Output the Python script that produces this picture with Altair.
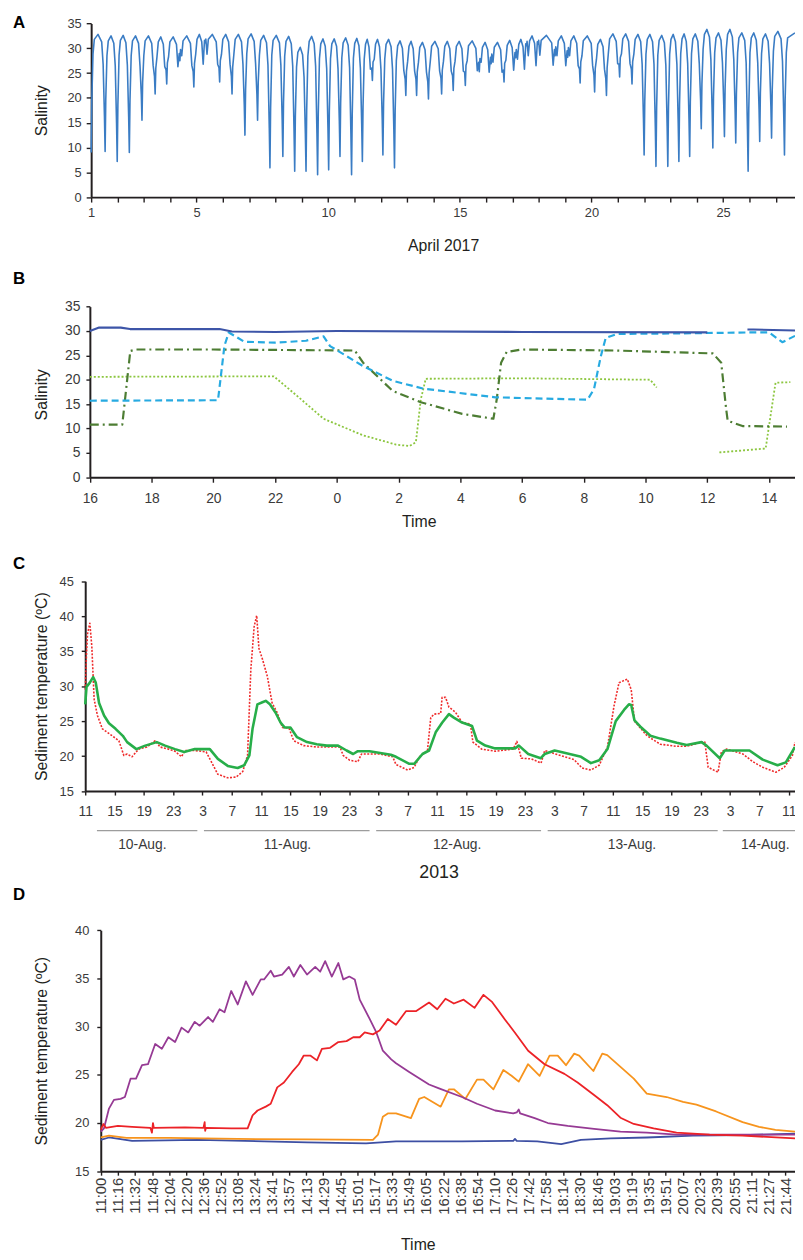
import json
import altair as alt
import pandas as pd

# ---------------- Panel A : salinity, April 2017 ----------------
A_DAY_START = 1.0
A_DAY_END = 27.73
A_START = 9.0
A_DIP_DAY = [1.53, 1.99, 2.45, 2.93, 3.43, 3.87, 4.37, 4.90, 5.33, 5.88,
             6.35, 6.84, 7.32, 7.79, 8.28, 8.73, 9.16, 9.60, 10.02, 10.45,
             10.89, 11.30, 11.68, 12.08, 12.52, 12.95, 13.36, 13.81, 14.31, 14.75,
             15.21, 15.74, 16.19, 16.68, 17.12, 17.53, 17.97, 18.62, 19.10, 19.57,
             20.12, 20.57, 21.07, 21.54, 22.00, 22.45, 22.90, 23.32, 23.73, 24.17,
             24.61, 25.05, 25.48, 25.95, 26.39, 26.84, 27.33]
A_DIP_MIN = [9.2, 7.2, 9.0, 15.5, 20.8, 22.8, 27.5, 22.2, 31.1, 23.2,
             20.8, 12.5, 15.5, 5.9, 8.2, 5.2, 5.2, 4.5, 5.5, 8.2,
             4.5, 7.2, 23.5, 8.5, 5.9, 20.5, 20.5, 19.8, 20.8, 21.5,
             22.5, 25.3, 26.9, 23.2, 28.1, 30.5, 30.8, 28.5, 28.2, 23.0,
             21.2, 20.5, 24.2, 22.8, 8.5, 6.2, 6.2, 7.2, 8.2, 13.8,
             9.9, 12.2, 10.9, 5.2, 11.2, 11.9, 8.5]
A_TOP = [32.8, 32.5, 32.6, 32.5, 32.5, 32.3, 32.3, 32.5, 32.8, 32.8,
         32.8, 32.8, 32.9, 32.6, 32.6, 32.4, 30.2, 32.4, 31.9, 31.9,
         32.1, 32.0, 31.8, 31.8, 31.8, 31.5, 31.4, 31.2, 31.4, 31.4,
         31.4, 31.5, 31.2, 31.2, 31.6, 31.8, 32.5, 32.6, 32.5, 32.5,
         32.5, 31.8, 32.9, 32.9, 32.8, 32.8, 32.6, 32.8, 32.9, 32.9,
         33.8, 33.1, 33.8, 33.1, 33.1, 32.9, 33.4, 33.1]
A_TICKS = list(range(1, 28))
A_LABELED = [1, 5, 10, 15, 20, 25]
A_YTICKS = [0, 5, 10, 15, 20, 25, 30, 35]

# ---------------- Panel B : salinity vs time ----------------
B_BLUE = [(1, 16, 30.0), (1, 16.3, 30.7), (1, 17.0, 30.7), (1, 17.3, 30.4), (1, 20.2, 30.4),
          (1, 20.6, 29.9), (1, 22.0, 29.8), (1, 24.0, 30.0), (1, 30.0, 29.8), (1, 36.0, 29.7),
          (2, 37.3, 30.3), (2, 37.5, 30.3), (2, 38.84, 30.1)]
B_CYAN = [(1, 16, 15.7), (1, 20.15, 15.8), (1, 20.36, 27.0), (1, 20.5, 29.7), (1, 21.0, 27.8),
          (1, 22.0, 27.6), (1, 23.0, 28.0), (1, 23.57, 28.9), (1, 23.78, 26.9), (1, 24.85, 22.8),
          (1, 25.81, 19.8), (1, 26.78, 18.2), (1, 29.13, 16.4), (1, 32.12, 15.9), (1, 32.33, 18.1),
          (1, 32.55, 24.8), (1, 32.71, 28.6), (1, 33.08, 29.4), (1, 35.0, 29.5), (1, 37.36, 29.7),
          (1, 38.0, 29.7), (1, 38.43, 27.7), (1, 38.84, 29.0)]
B_DKGREEN = [(1, 16, 10.8), (1, 17.05, 10.8), (1, 17.31, 25.9), (1, 17.5, 26.2), (1, 20.0, 26.2),
             (1, 24.58, 26.0), (1, 24.85, 23.5), (1, 25.81, 17.7), (1, 26.72, 15.4), (1, 28.06, 13.0),
             (1, 29.07, 12.0), (1, 29.18, 16.0), (1, 29.32, 23.5), (1, 29.5, 25.7), (1, 29.98, 26.2),
             (1, 33.0, 26.0), (1, 36.18, 25.4), (1, 36.45, 23.5), (1, 36.61, 14.0), (1, 36.66, 11.6),
             (1, 37.14, 10.5), (1, 38.58, 10.4)]
B_LTGREEN = [(1, 16, 20.6), (1, 21.96, 20.7), (1, 22.71, 16.7), (1, 23.57, 12.0), (1, 24.85, 8.6),
             (1, 25.92, 6.7), (1, 26.35, 6.4), (1, 26.56, 7.2), (1, 26.72, 16.0), (1, 26.88, 20.2),
             (1, 30.0, 20.3), (1, 34.15, 20.0), (1, 34.36, 18.4),
             (2, 36.39, 5.1), (2, 37.89, 5.9), (2, 38.0, 10.6), (2, 38.21, 19.4), (2, 38.69, 19.5)]
B_XTICKS = list(range(16, 39, 2))
B_YTICKS = [0, 5, 10, 15, 20, 25, 30, 35]

# ---------------- Panel C : sediment temperature, Aug 2013 ----------------
C_GREEN = [(0, 27.4), (0.18, 29.9), (0.63, 30.5), (1.08, 31.3), (1.44, 30.5), (1.89, 27.6),
           (2.57, 25.8), (3.24, 24.7), (4.14, 23.9), (5.13, 22.9), (5.72, 22.0), (6.98, 21.0),
           (8.19, 21.5), (9.77, 22.0), (10.9, 21.5), (12.25, 21.0), (13.5, 20.6), (14.95, 21.0),
           (17.0, 21.0), (18.1, 19.6), (19.45, 18.6), (20.8, 18.3), (21.7, 18.7), (22.4, 20.1),
           (22.83, 23.9), (23.5, 27.4), (24.18, 27.7), (24.63, 27.9), (25.2, 27.4), (25.98, 26.2),
           (26.65, 24.8), (27.2, 24.1), (28.0, 24.1), (28.9, 22.7), (30.26, 22.0), (31.6, 21.7),
           (32.96, 21.5), (34.5, 21.5), (35.66, 20.8), (36.56, 20.3), (37.2, 20.7), (38.8, 20.7),
           (41.7, 20.2), (42.41, 19.9), (44.22, 18.9), (44.9, 18.9), (46.02, 20.3), (46.92, 20.8),
           (47.82, 23.4), (48.72, 24.8), (49.63, 26.0), (50.3, 25.5), (51.43, 24.8), (52.78, 24.3),
           (53.46, 22.2), (54.59, 21.5), (55.94, 21.1), (58.64, 21.1), (59.18, 21.5), (60.45, 20.3),
           (62.16, 19.7), (62.7, 20.3), (64.05, 20.8), (64.95, 20.6), (67.66, 19.9), (69.0, 19.0),
           (70.14, 19.4), (71.26, 21.0), (72.39, 25.0), (73.52, 26.6), (74.19, 27.4), (74.5, 27.3),
           (74.95, 25.1), (75.76, 24.2), (77.12, 22.9), (78.47, 22.5), (80.72, 21.9), (82.07, 21.6),
           (84.1, 22.0), (84.78, 21.5), (86.58, 19.7), (87.26, 20.8), (88.38, 20.8), (90.64, 20.8),
           (92.44, 19.5), (94.47, 18.7), (95.6, 19.1), (96.85, 21.3)]
C_RED = [(0, 29.5), (0.18, 34.7), (0.32, 37.5), (0.63, 39.0), (0.9, 35.7), (1.22, 28.1),
         (1.67, 25.8), (2.34, 23.9), (3.69, 22.9), (4.59, 22.2), (5.27, 20.1), (5.72, 20.3),
         (6.39, 19.9), (7.29, 21.0), (8.42, 21.3), (9.55, 22.2), (10.22, 21.3), (11.35, 21.0),
         (12.25, 20.7), (13.15, 19.9), (13.6, 20.8), (14.95, 20.8), (16.5, 20.6), (17.2, 19.2),
         (18.1, 17.4), (19.45, 16.9), (20.58, 17.0), (21.5, 17.8), (22.15, 20.1), (22.6, 32.4),
         (23.05, 38.5), (23.4, 40.1), (23.7, 35.4), (24.2, 33.8), (24.85, 31.4), (25.5, 27.6),
         (26.2, 26.2), (26.9, 24.1), (27.8, 24.0), (28.45, 22.2), (29.8, 21.5), (31.6, 21.3),
         (33.4, 21.3), (34.76, 21.3), (35.2, 20.1), (36.1, 19.4), (37.2, 19.2), (37.7, 20.3),
         (40.2, 20.3), (41.96, 19.9), (42.4, 18.8), (44.0, 18.0), (44.9, 18.4), (45.6, 19.9),
         (46.7, 20.8), (47.15, 25.5), (47.6, 26.0), (48.5, 26.1), (48.7, 28.4), (49.17, 28.4),
         (49.63, 27.0), (50.5, 26.3), (51.43, 24.8), (52.56, 24.6), (52.9, 22.0), (54.1, 21.0),
         (55.94, 20.7), (58.4, 21.0), (58.9, 22.1), (59.5, 19.7), (60.9, 19.6), (62.2, 19.0),
         (62.7, 20.8), (64.5, 20.2), (66.7, 19.5), (67.8, 18.3), (69.0, 18.0), (70.14, 18.7),
         (71.26, 21.3), (72.16, 27.2), (72.84, 30.5), (73.97, 31.0), (74.5, 29.5), (74.95, 25.0),
         (76.66, 22.9), (78.47, 21.7), (80.72, 21.4), (82.07, 21.4), (84.1, 22.0), (84.55, 22.0),
         (85.0, 18.4), (86.35, 17.7), (86.8, 20.6), (87.5, 21.0), (89.75, 20.3), (91.1, 19.2),
         (92.44, 18.4), (94.25, 17.7), (95.38, 18.4), (96.5, 20.1), (96.85, 22.0)]
C_XTICKS = list(range(0, 97, 4))
C_YTICKS = [15, 20, 25, 30, 35, 40, 45]
C_DAYS = ["10-Aug.", "11-Aug.", "12-Aug.", "13-Aug.", "14-Aug."]
C_DAY_START = [1.6, 16.2, 39.7, 63.1, 87.0]
C_DAY_END = [15.3, 38.8, 62.2, 86.3, 96.85]
C_DAY_CENTER = [7.8, 27.6, 50.75, 74.6, 92.8]

# ---------------- Panel D : sediment temperature vs time ----------------
D_TIME_LABELS = ["11:00", "11:16", "11:32", "11:48", "12:04", "12:20", "12:36", "12:52",
                 "13:08", "13:24", "13:41", "13:57", "14:13", "14:29", "14:45", "15:01",
                 "15:17", "15:33", "15:49", "16:05", "16:22", "16:38", "16:54", "17:10",
                 "17:26", "17:42", "17:58", "18:14", "18:30", "18:46", "19:03", "19:19",
                 "19:35", "19:51", "20:07", "20:23", "20:39", "20:55", "21:11", "21:27", "21:44"]
D_PURPLE = [(0, 19.1), (0.19, 19.45), (0.48, 21.5), (0.77, 22.4), (1.16, 22.5), (1.41, 22.7),
            (1.74, 24.6), (2.06, 24.6), (2.41, 26.0), (2.76, 26.1), (3.18, 28.2), (3.57, 27.7),
            (3.95, 28.9), (4.34, 28.4), (4.72, 29.9), (5.11, 29.4), (5.49, 30.5), (5.78, 30.1),
            (6.27, 31.0), (6.55, 30.5), (6.94, 31.8), (7.23, 31.5), (7.62, 33.7), (8.0, 32.3),
            (8.48, 34.7), (8.87, 33.3), (9.35, 34.9), (9.54, 34.9), (9.93, 35.8), (10.12, 35.2),
            (10.6, 35.4), (10.99, 36.2), (11.28, 35.2), (11.66, 36.4), (12.05, 35.4), (12.53, 36.2),
            (12.82, 35.7), (13.11, 36.8), (13.5, 35.2), (13.88, 36.6), (14.17, 34.9), (14.52, 35.2),
            (14.84, 34.9), (15.13, 32.8), (15.71, 30.8), (16.1, 29.4), (16.48, 27.5), (16.97, 26.6),
            (17.25, 26.2), (18.02, 25.3), (19.18, 24.0), (19.76, 23.6), (21.1, 22.7), (21.98, 22.0),
            (23.04, 21.3), (24.1, 21.0), (24.3, 21.1), (24.42, 21.4), (24.5, 21.0), (25.35, 20.5),
            (26.12, 20.0), (27.28, 19.7), (28.82, 19.4), (30.36, 19.1), (31.9, 19.0), (33.64, 18.8),
            (36.5, 18.8), (40.56, 18.8)]
D_RED = [(0, 19.3), (0.15, 19.9), (0.3, 19.5), (1.0, 19.7), (1.83, 19.6), (2.9, 19.5), (2.99, 19.0),
         (3.05, 20.0), (3.1, 19.5), (4.92, 19.55), (6.0, 19.5), (6.07, 20.1), (6.1, 19.2), (6.15, 19.5),
         (7.62, 19.45), (8.58, 19.45), (8.87, 20.8), (9.16, 21.3), (9.64, 21.7), (9.93, 22.0),
         (10.31, 23.7), (10.7, 24.2), (11.18, 25.3), (11.57, 26.1), (11.86, 27.0), (12.24, 27.0),
         (12.63, 26.5), (12.92, 27.7), (13.4, 27.8), (13.88, 28.4), (14.36, 28.5), (14.75, 28.9),
         (15.13, 28.9), (15.42, 29.4), (15.9, 29.2), (16.29, 29.6), (16.77, 30.8), (17.25, 30.2),
         (17.83, 31.6), (18.41, 31.6), (19.18, 32.5), (19.66, 31.8), (20.14, 32.9), (20.63, 32.4),
         (21.2, 32.8), (21.84, 31.95), (22.36, 33.3), (22.84, 32.6), (23.61, 30.75), (24.19, 29.4),
         (24.97, 27.5), (25.93, 26.1), (27.09, 25.1), (27.86, 24.2), (28.82, 22.9), (29.59, 21.85),
         (30.36, 20.55), (31.14, 19.9), (32.3, 19.45), (33.64, 19.0), (35.57, 18.8), (37.5, 18.7),
         (40.56, 18.4)]
D_ORANGE = [(0, 18.5), (0.48, 18.7), (1.5, 18.45), (4, 18.45), (8, 18.35), (12, 18.3), (15.9, 18.25),
            (16.2, 18.8), (16.48, 20.65), (16.77, 21.0), (17.25, 21.0), (18.12, 20.5), (18.6, 22.5),
            (18.9, 22.7), (19.86, 21.7), (20.34, 23.5), (20.63, 23.5), (21.3, 22.5), (21.98, 24.5),
            (22.36, 24.5), (22.94, 23.5), (23.52, 25.5), (24.0, 24.9), (24.42, 24.3), (24.96, 26.1),
            (25.64, 24.9), (26.22, 27.0), (26.7, 27.0), (27.18, 26.0), (27.66, 27.2), (27.95, 27.0),
            (28.78, 25.4), (29.3, 27.2), (29.59, 27.05), (31.14, 24.6), (31.9, 23.05), (33.06, 22.7),
            (34.02, 22.2), (34.8, 21.9), (35.95, 21.2), (37.5, 20.1), (38.46, 19.6), (39.42, 19.3),
            (40.56, 19.1)]
D_BLUE = [(0, 18.25), (0.48, 18.5), (1.83, 18.15), (5.7, 18.25), (9.54, 18.1), (12.05, 18.0),
          (15.5, 17.9), (17.25, 18.1), (21.1, 18.1), (24.1, 18.15), (24.2, 18.35), (24.3, 18.15),
          (25.5, 18.1), (26.9, 17.8), (28.05, 18.25), (29.8, 18.4), (31.9, 18.5), (34.6, 18.7),
          (37.5, 18.75), (40.56, 18.9)]
D_YTICKS = [15, 20, 25, 30, 35, 40]

# ---------------- layout / style ----------------
W, H = 795, 1248
FONT = "Liberation Sans, Arial, sans-serif"
NARROW = "Liberation Sans Narrow, Liberation Sans, Arial, sans-serif"
AXC = "#231f20"
LABC = "#3a3a3a"
TITC = "#231f20"


def lin(dom, rng):
    return alt.Scale(domain=dom, range=rng, nice=False, zero=False)


def build_a():
    pts = [(A_DAY_START, A_START)]

    def rise(t, m, p):
        return [(t + 0.025, m + (p - m) * 0.45), (t + 0.07, p - 4.0), (t + 0.12, p - 1.0)]

    def fall(t, m, p):
        return [(t - 0.13, p - 1.5), (t - 0.075, p - 6.0), (t - 0.025, m + (p - m) * 0.3)]

    pts += rise(A_DAY_START, A_START, A_TOP[0])
    for i, (t, m) in enumerate(zip(A_DIP_DAY, A_DIP_MIN)):
        mid = (pts[-1][0] + t - 0.13) / 2
        pts.append((mid, A_TOP[i]))
        pts += fall(t, m, A_TOP[i])
        pts.append((t, m))
        pts += rise(t, m, A_TOP[i + 1])
    pts.append((A_DAY_END, A_TOP[-1]))
    return pd.DataFrame(pts, columns=["x", "y"])


def xy_df(pairs):
    return pd.DataFrame(pairs, columns=["x", "y"])


def seg_df(triples):
    return pd.DataFrame(triples, columns=["seg", "x", "y"])


def line(df, xs, ys, color, width, xaxis=None, yaxis=None, dash=None, detail=False):
    kw = dict(color=color, strokeWidth=width, strokeJoin="round", strokeCap="butt")
    if dash:
        kw["strokeDash"] = dash
    enc = dict(x=alt.X("x:Q", scale=xs, axis=xaxis), y=alt.Y("y:Q", scale=ys, axis=yaxis))
    if detail:
        enc["detail"] = "seg:N"
    return alt.Chart(df).mark_line(**kw).encode(**enc)


def common_axis(**kw):
    base = dict(grid=False, domainColor=AXC, tickColor=AXC, labelColor=LABC, labelFont=FONT,
                titleFont=FONT, titleColor=TITC, titleFontWeight="normal", labelFlush=False,
                labelOverlap=False, titleAlign="center", titleBaseline="middle")
    base.update(kw)
    return alt.Axis(**base)


layers = []

# ---- A ----
AXL, AXR, AYB, AYT = 84, 795, 184.7, 9.3
XA = lin([A_DAY_START, A_DAY_END], [AXL, AXR])
YA = lin([0, 35], [AYB, AYT])
a_lab_expr = "indexof(%s, datum.value) >= 0 ? datum.label : ''" % json.dumps(A_LABELED)
ax_a = common_axis(orient="bottom", offset=AYB - H, values=A_TICKS, labelExpr=a_lab_expr,
                   tickSize=5, tickWidth=1.4, domainWidth=2, labelFontSize=13, labelPadding=5,
                   title="April 2017", titleFontSize=16, titleX=(AXL + AXR) / 2, titleY=48.5)
ay_a = common_axis(orient="left", offset=-AXL, values=A_YTICKS, tickSize=5, tickWidth=1.4,
                   domainWidth=2, labelFontSize=13, labelPadding=5, title="Salinity",
                   titleFontSize=16, titleAngle=270, titleX=34 - AXL, titleY=(AYB + AYT) / 2)
layers.append(line(build_a(), XA, YA, "#3a7cc4", 1.6, ax_a, ay_a))

# ---- B ----
BXL, BXR, BYB, BYT = 82.7, 795, 467.7, 295.3
XB = lin([16, 38.84], [BXL, BXR])
YB = lin([0, 35], [BYB, BYT])
ax_b = common_axis(orient="bottom", offset=BYB - H, values=B_XTICKS,
                   labelExpr="'' + (datum.value % 24)", tickSize=5, tickWidth=1.4, domainWidth=2,
                   labelFontSize=14, labelPadding=9, title="Time", titleFontSize=16,
                   titleX=415, titleY=44.5)
ay_b = common_axis(orient="left", offset=-BXL, values=B_YTICKS, tickSize=4, tickWidth=1.4,
                   domainWidth=2, labelFontSize=14, labelPadding=6, title="Salinity",
                   titleFontSize=16, titleAngle=270, titleX=34 - BXL, titleY=384)
layers.append(line(seg_df(B_LTGREEN), XB, YB, "#8cc63f", 1.8, dash=[2, 2], detail=True))
layers.append(line(seg_df(B_DKGREEN), XB, YB, "#4d7d33", 2.2, dash=[9, 4, 2, 4], detail=True))
layers.append(line(seg_df(B_CYAN), XB, YB, "#27aae1", 2.2, dash=[7, 4], detail=True))
layers.append(line(seg_df(B_BLUE), XB, YB, "#3d55a8", 2.2, ax_b, ay_b, detail=True))

# ---- C ----
CXL, CXR, CYB, CYT = 78, 795, 784.7, 572.7
XC = lin([0, 96.85], [CXL, CXR])
YC = lin([15, 45], [CYB, CYT])
ax_c = common_axis(orient="bottom", offset=CYB - H, values=C_XTICKS,
                   labelExpr="'' + ((datum.value + 11) % 24)", tickSize=4, tickWidth=1.4,
                   domainWidth=2, labelFont=NARROW, labelFontSize=14, labelPadding=10,
                   title="2013", titleFont=NARROW, titleFontSize=18, titleX=435, titleY=82.5)
ay_c = common_axis(orient="left", offset=-CXL, values=C_YTICKS, tickSize=4, tickWidth=1.4,
                   domainWidth=2, labelFontSize=13, labelPadding=8,
                   title="Sediment temperature (ºC)", titleFontSize=16, titleAngle=270,
                   titleX=34 - CXL, titleY=678.7)
layers.append(line(xy_df(C_RED), XC, YC, "#ef2b2b", 1.6, dash=[2, 1.5]))
layers.append(line(xy_df(C_GREEN), XC, YC, "#27ae49", 2.6, ax_c, ay_c))
c_days = pd.DataFrame({"lab": C_DAYS, "s": C_DAY_START, "e": C_DAY_END, "c": C_DAY_CENTER})
layers.append(alt.Chart(c_days).mark_rule(color="#9d9d9d", strokeWidth=1.3).encode(
    x=alt.X("s:Q", scale=XC, axis=None), x2="e:Q", y=alt.value(824.7)))
layers.append(alt.Chart(c_days).mark_text(font=NARROW, fontSize=14, color=LABC,
                                          baseline="middle", align="center").encode(
    x=alt.X("c:Q", scale=XC, axis=None), y=alt.value(839), text="lab:N"))

# ---- D ----
DXL, DXR, DYB, DYT = 93.7, 795, 1168.7, 925.3
XD = lin([0, 40.56], [DXL, DXR])
YD = lin([15, 40], [DYB, DYT])
d_lab_expr = "%s[datum.value]" % json.dumps(D_TIME_LABELS)
ax_d = common_axis(orient="bottom", offset=DYB - H, values=list(range(len(D_TIME_LABELS))),
                   labelExpr=d_lab_expr, labelAngle=270, labelAlign="right",
                   labelBaseline="middle", tickSize=4, tickWidth=1.4, domainWidth=2,
                   labelFontSize=15, labelPadding=2, title="Time", titleFontSize=16,
                   titleX=414, titleY=74)
ay_d = common_axis(orient="left", offset=-DXL, values=D_YTICKS, tickSize=4, tickWidth=1.4,
                   domainWidth=2, labelFontSize=13, labelPadding=8,
                   title="Sediment temperature (ºC)", titleFontSize=16, titleAngle=270,
                   titleX=34 - DXL, titleY=1047)
layers.append(line(xy_df(D_BLUE), XD, YD, "#3d4fa3", 1.8, ax_d, ay_d))
layers.append(line(xy_df(D_ORANGE), XD, YD, "#f7941d", 1.8))
layers.append(line(xy_df(D_PURPLE), XD, YD, "#963a94", 1.8))
layers.append(line(xy_df(D_RED), XD, YD, "#ec2227", 1.8))

# ---- panel letters ----
for letter, px, py in [("A", 5, 1), ("B", 5, 259), ("C", 5, 547), ("D", 5, 882)]:
    layers.append(alt.Chart(pd.DataFrame({"t": [letter]})).mark_text(
        font=FONT, fontSize=17, fontWeight="bold", color="#000000", align="left",
        baseline="top").encode(x=alt.value(px), y=alt.value(py), text="t:N"))

chart = alt.layer(*layers).resolve_scale(x="independent", y="independent").properties(
    width=W, height=H, padding=0, autosize=alt.AutoSizeParams(type="none")
).configure_view(strokeOpacity=0)

chart.save("out.html", embed_options={"renderer": "svg", "actions": False})
